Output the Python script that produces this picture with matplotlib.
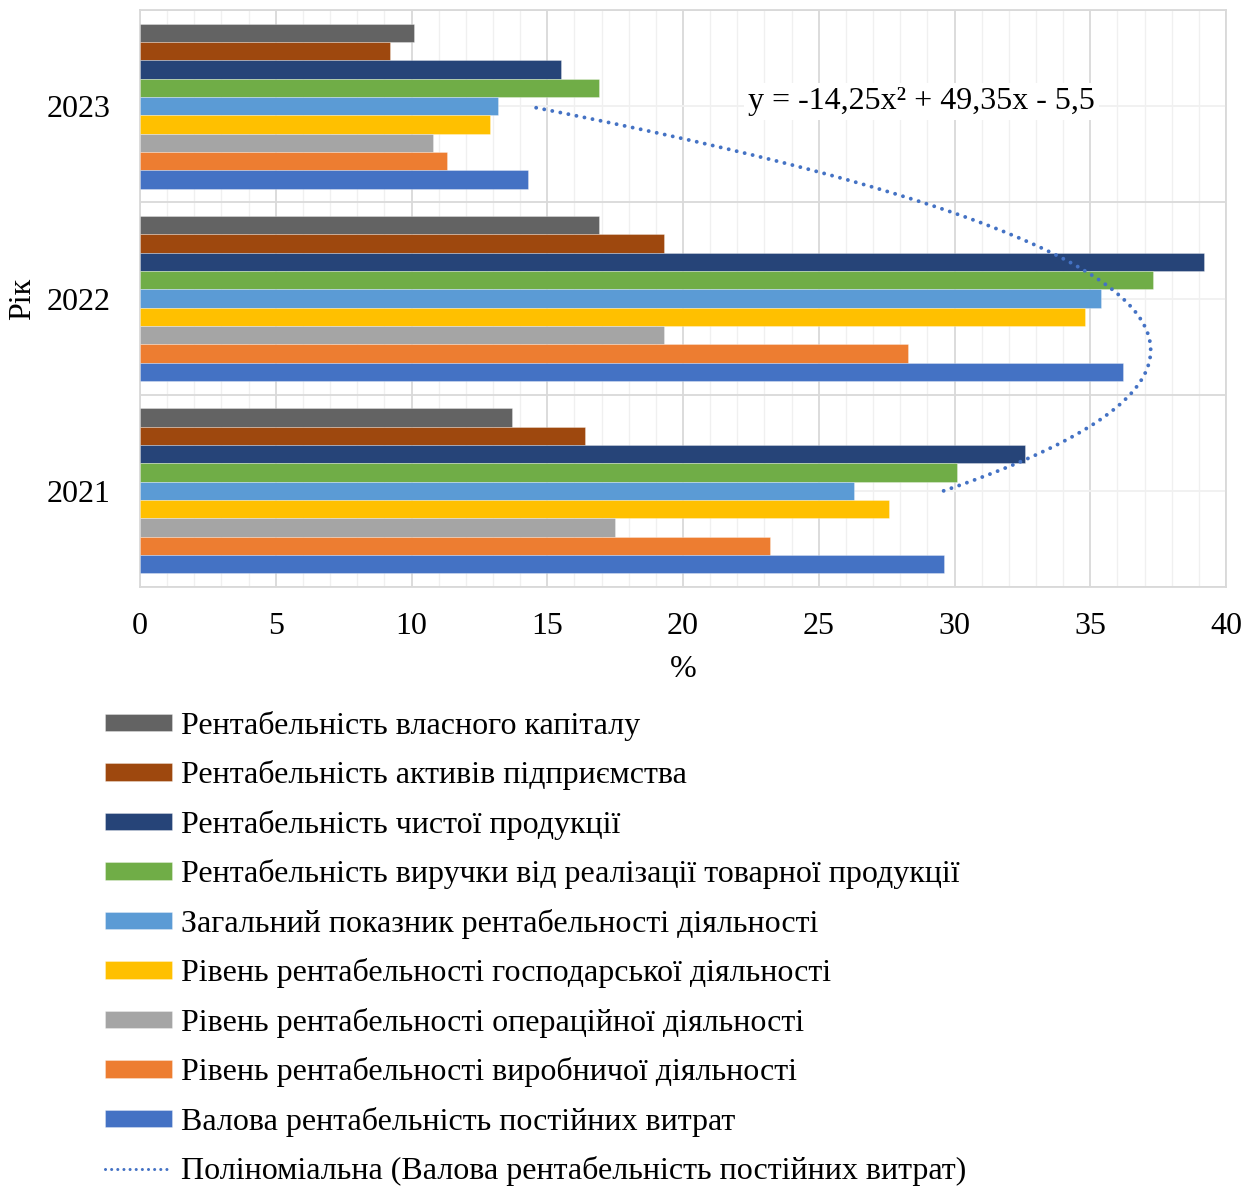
import numpy as np
import matplotlib
matplotlib.use("Agg")
import matplotlib.pyplot as plt
from matplotlib.lines import Line2D

plt.rcParams['font.family'] = ['Liberation Serif', 'DejaVu Serif']

years = ["2021", "2022", "2023"]
series_names = [
    "Рентабельність власного капіталу",
    "Рентабельність активів підприємства",
    "Рентабельність чистої продукції",
    "Рентабельність виручки від реалізації товарної продукції",
    "Загальний показник рентабельності діяльності",
    "Рівень рентабельності господарської діяльності",
    "Рівень рентабельності операційної діяльності",
    "Рівень рентабельності виробничої діяльності",
    "Валова рентабельність постійних витрат",
]
# values for 2021, 2022, 2023
roe = [13.7, 16.9, 10.1]
roa = [16.4, 19.3, 9.2]
net_prod = [32.6, 39.2, 15.5]
revenue = [30.1, 37.3, 16.9]
general = [26.3, 35.4, 13.2]
economic = [27.6, 34.8, 12.9]
operating = [17.5, 19.3, 10.8]
production = [23.2, 28.3, 11.3]
gross_fixed = [29.6, 36.2, 14.3]
series_values = [roe, roa, net_prod, revenue, general, economic, operating, production, gross_fixed]
trend_name = "Поліноміальна (Валова рентабельність постійних витрат)"

colors = ["#636363", "#9E480E", "#264478", "#70AD47", "#5B9BD5",
          "#FFC000", "#A5A5A5", "#ED7D31", "#4472C4"]

FS = 23
W, H = 1256, 1196
fig = plt.figure(figsize=(W / 100, H / 100), dpi=100)
ax = fig.add_axes([140 / W, 1 - 587 / H, (1226 - 140) / W, (587 - 10) / H])

n = len(series_names)
h = 1.0 / (n + 1.5)
pos = np.arange(len(years))
handles = []
for i, (name, vals, c) in enumerate(zip(series_names, series_values, colors)):
    b = ax.barh(pos + (4 - i) * h, vals, height=h, color=c, edgecolor=(1, 1, 1, 0.35),
                linewidth=0.6, label=name, zorder=3)
    handles.append(b)

# polynomial trendline (order 2) of the last series
xk = np.arange(1, len(years) + 1)
coef = np.polyfit(xk, gross_fixed, 2)
tt = np.linspace(1, len(years), 300)
yy = np.polyval(coef, tt)
ax.plot(yy, tt - 1, color="#4472C4", lw=2.8, linestyle=(0, (0.01, 2.1)),
        dash_capstyle='round', zorder=4)

def fmt(v):
    return f"{abs(v):.2f}".rstrip('0').rstrip('.').replace('.', ',')

a, b_, c_ = coef
eq = f"y = {'-' if a < 0 else ''}{fmt(a)}x² {'+' if b_ >= 0 else '-'} {fmt(b_)}x {'+' if c_ >= 0 else '-'} {fmt(c_)}"
ax.text(22.4, 2.025, eq, fontsize=FS, ha='left', va='center', zorder=5,
        bbox=dict(facecolor='white', edgecolor='none', pad=3))

ax.set_xlim(0, 40)
ax.set_ylim(-0.5, 2.5)
ax.set_xticks(np.arange(0, 41, 5))
ax.set_xticks(np.arange(0, 41, 1), minor=True)
ax.set_yticks(pos)
ax.set_yticklabels(years)
ax.set_yticks([-0.5, 0.5, 1.5, 2.5], minor=True)
ax.grid(which='major', axis='x', color='#D9D9D9', lw=1.3, zorder=0)
ax.grid(which='minor', axis='x', color='#F0F0F0', lw=1.0, zorder=0)
ax.grid(which='minor', axis='y', color='#D9D9D9', lw=1.3, zorder=0)
ax.grid(which='major', axis='y', color='#F0F0F0', lw=1.3, zorder=0)
ax.set_axisbelow(True)
ax.tick_params(axis='both', which='both', length=0, labelsize=FS)
ax.tick_params(axis='x', pad=18)
ax.tick_params(axis='y', pad=21)
for s in ax.spines.values():
    s.set_color('#D9D9D9')
    s.set_linewidth(1.3)

ax.set_xlabel("%", fontsize=FS, labelpad=10)
ax.set_ylabel("Рік", fontsize=FS, labelpad=7)

handles.append(Line2D([0], [0], color="#4472C4", lw=2.2, linestyle=(0, (0.01, 2.0)),
                      dash_capstyle='round'))
labels = series_names + [trend_name]
fig.legend(handles, labels, loc='upper left', bbox_to_anchor=(105 / W, 1 - 711 / H),
           frameon=False, fontsize=FS, borderpad=0, borderaxespad=0,
           handlelength=2.1, handleheight=0.47, handletextpad=0.28, labelspacing=0.61)

fig.savefig("out.png", dpi=100)
